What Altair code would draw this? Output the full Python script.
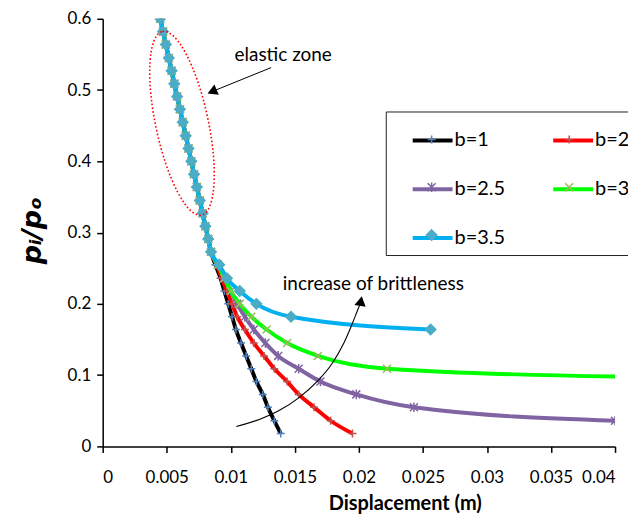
import altair as alt
import pandas as pd

# ---------------- data ----------------
series = ["b=1", "b=2", "b=2.5", "b=3", "b=3.5"]
line_colors = ["#000000", "#FF0000", "#8064A2", "#00FF00", "#00B0F0"]
marker_colors = ["#4F81BD", "#C0504D", "#8064A2", "#9BBB59", "#4BACC6"]
marker_fills = ["transparent", "transparent", "transparent", "transparent", "#4BACC6"]

# shared elastic branch
elastic_p = [0.600, 0.582, 0.564, 0.545, 0.527, 0.509, 0.491, 0.473, 0.455, 0.436,
             0.418, 0.400, 0.382, 0.364, 0.345, 0.327, 0.309, 0.291, 0.273]
elastic_x = [0.00449, 0.00471, 0.00493, 0.00516, 0.00538, 0.00559, 0.00581, 0.00603,
             0.00625, 0.00648, 0.00670, 0.00692, 0.00713, 0.00735, 0.00758, 0.00780,
             0.00802, 0.00824, 0.00846]

# plastic branches
b1_p = [0.255, 0.236, 0.218, 0.200, 0.182, 0.164, 0.145, 0.127, 0.109, 0.091, 0.073, 0.055, 0.036, 0.018]
b1_x = [0.0088, 0.0092, 0.0095, 0.0098, 0.0101, 0.0104, 0.0108, 0.0112, 0.0116, 0.0120, 0.0125, 0.0129, 0.0134, 0.0139]

b2_p = [0.255, 0.236, 0.218, 0.200, 0.182, 0.164, 0.145, 0.127, 0.109, 0.091, 0.073, 0.055, 0.036, 0.018]
b2_x = [0.0089, 0.0093, 0.0097, 0.0101, 0.0105, 0.0111, 0.0118, 0.0126, 0.0134, 0.0144, 0.0153, 0.0165, 0.0178, 0.0195]

b25_p = [0.255, 0.236, 0.218, 0.200, 0.182, 0.164, 0.145, 0.127, 0.109, 0.091, 0.073, 0.055, 0.036]
b25_x = [0.0090, 0.0095, 0.0100, 0.0105, 0.0111, 0.0118, 0.0127, 0.0137, 0.0153, 0.0170, 0.0198, 0.0243, 0.0400]

b3_p = [0.255, 0.236, 0.218, 0.200, 0.182, 0.164, 0.145, 0.127, 0.109, 0.098]
b3_x = [0.0090, 0.0095, 0.0100, 0.0107, 0.0116, 0.0128, 0.0144, 0.0168, 0.0222, 0.0400]
b3_last_marked = False  # line runs off the axis at 0.04 without a marker

b35_p = [0.255, 0.236, 0.218, 0.200, 0.182, 0.164]
b35_x = [0.0091, 0.0097, 0.0107, 0.0120, 0.0147, 0.0256]

x_ticks = [0, 0.005, 0.01, 0.015, 0.02, 0.025, 0.03, 0.035, 0.04]
y_ticks = [0, 0.1, 0.2, 0.3, 0.4, 0.5, 0.6]

# annotations (data coordinates)
ellipse_center = (0.00619, 0.4534)
elastic_label = (0.01409, 0.5497, "elastic zone")
elastic_arrow = (0.01315, 0.5315, 0.00854, 0.4979)
brittle_x = [0.01043, 0.01222, 0.01377, 0.01533, 0.01673, 0.01790, 0.01883, 0.01946, 0.01992, 0.02010]
brittle_p = [0.028, 0.0378, 0.0503, 0.0685, 0.0909, 0.116, 0.145, 0.171, 0.192, 0.200]
brittle_head = (0.02016, 0.2040)
brittle_label = (0.02113, 0.2280, "increase of brittleness")

# ---------------- table ----------------
branches = {
    "b=1": (b1_x, b1_p),
    "b=2": (b2_x, b2_p),
    "b=2.5": (b25_x, b25_p),
    "b=3": (b3_x, b3_p),
    "b=3.5": (b35_x, b35_p),
}
rows = []
for s in series:
    bx, bp = branches[s]
    xs = elastic_x + bx
    ps = elastic_p + bp
    for i, (xv, pv) in enumerate(zip(xs, ps)):
        marked = True
        if s == "b=3" and i == len(xs) - 1 and not b3_last_marked:
            marked = False
        rows.append({"series": s, "x": xv, "p": pv, "marker": marked})
df = pd.DataFrame(rows)

FONT = "Lato"
xscale = alt.Scale(domain=[0, 0.04], nice=False, zero=True)
yscale = alt.Scale(domain=[0, 0.6], nice=False, zero=True)

xenc = alt.X("x:Q", scale=xscale,
             axis=alt.Axis(values=x_ticks, format="~g", title="Displacement (m)",
                           titleFontWeight="bold", titleFontSize=20, titleFont=FONT,
                           titleX=303, titleY=57, titleAnchor="middle",
                           titleBaseline="middle",
                           labelPadding=17, tickSize=6))
yenc = alt.Y("p:Q", scale=yscale,
             axis=alt.Axis(values=y_ticks, format="~g", title="pᵢ/pₒ",
                           titleFont="DejaVu Sans", titleFontSize=27,
                           titleFontStyle="italic", titleFontWeight="bold",
                           titleAngle=270, titleX=-70, titleY=212,
                           titleAlign="center", titleBaseline="middle",
                           labelPadding=6, tickSize=6))

LEG = dict(title=None, orient="none", legendX=284, legendY=93, direction="horizontal",
           columns=2, rowPadding=17, symbolSize=1600,
           labelFontSize=20, labelFont=FONT, labelColor="black", labelOffset=0,
           padding=7, symbolOffset=18)

color = alt.Color("series:N",
                  scale=alt.Scale(domain=series, range=line_colors),
                  legend=alt.Legend(symbolType="stroke", symbolStrokeWidth=4,
                                    columnPadding=28,
                                    strokeColor="#222222", fillColor="white", **LEG))

# marker shapes, drawn small inside the unit box so legend rows keep the same size
plus_path = "M-0.2,0L0.2,0M0,-0.2L0,0.2"
x_path = "M-0.2,-0.2L0.2,0.2M-0.2,0.2L0.2,-0.2"
star_path = "M-0.2,-0.2L0.2,0.2M-0.2,0.2L0.2,-0.2M0,-0.24L0,0.24"
diamond_path = "M0,-0.26L0.26,0L0,0.26L-0.26,0Z"
marker_paths = [plus_path, plus_path, star_path, x_path, diamond_path]

# marker overlay legend: no labels, wider column gap to keep symbols over the lines
mleg = alt.Legend(symbolStrokeWidth=1.5, labelExpr="''", columnPadding=78, **LEG)
shape = alt.Shape("series:N", scale=alt.Scale(range=marker_paths), legend=mleg)
stroke = alt.Stroke("series:N", scale=alt.Scale(range=marker_colors), legend=mleg)
fill = alt.Fill("series:N", scale=alt.Scale(range=marker_fills), legend=mleg)

base = alt.Chart(df)
layers = []
for s in series:
    sub = base.transform_filter(alt.datum.series == s)
    layers.append(sub.mark_line(interpolate="monotone", strokeWidth=4, clip=True)
                  .encode(x=xenc, y=yenc, color=color))
    pts = sub.transform_filter(alt.datum.marker == True)
    layers.append(pts.mark_point(filled=False, size=1600, strokeWidth=1.5,
                                 opacity=1, clip=True)
                  .encode(x="x:Q", y="p:Q", shape=shape, stroke=stroke, fill=fill))

# ---------------- annotations ----------------
ann_pt = pd.DataFrame({"x": [ellipse_center[0]], "p": [ellipse_center[1]]})
ellipse_path = ("M0,-1C0.1546,-1 0.28,-0.5523 0.28,0C0.28,0.5523 0.1546,1 0,1"
                "C-0.1546,1 -0.28,0.5523 -0.28,0C-0.28,-0.5523 -0.1546,-1 0,-1Z")
ellipse = alt.Chart(ann_pt).mark_point(shape=ellipse_path, filled=False, size=35457,
                                       angle=348, color="#FF0000", strokeWidth=1.6,
                                       strokeDash=[1.6, 2.2], opacity=1).encode(x="x:Q", y="p:Q")

txt_df = pd.DataFrame({"x": [elastic_label[0], brittle_label[0]],
                       "p": [elastic_label[1], brittle_label[1]],
                       "t": [elastic_label[2], brittle_label[2]]})
texts = alt.Chart(txt_df).mark_text(font=FONT, fontSize=19, color="black",
                                    align="center", baseline="middle").encode(
    x="x:Q", y="p:Q", text="t:N")

arr_df = pd.DataFrame({"x": [elastic_arrow[0]], "p": [elastic_arrow[1]],
                       "x2": [elastic_arrow[2]], "p2": [elastic_arrow[3]]})
arrow1 = alt.Chart(arr_df).mark_rule(color="black", strokeWidth=1).encode(
    x="x:Q", y="p:Q", x2="x2:Q", y2="p2:Q")
head1 = alt.Chart(pd.DataFrame({"x": [elastic_arrow[2]], "p": [elastic_arrow[3]]})).mark_point(
    shape="triangle-up", filled=True, size=130, angle=247, color="black", opacity=1).encode(
    x="x:Q", y="p:Q")

curve_df = pd.DataFrame({"x": brittle_x, "p": brittle_p})
curve = alt.Chart(curve_df).mark_line(interpolate="monotone", color="black",
                                      strokeWidth=1.1).encode(x="x:Q", y="p:Q")
head2 = alt.Chart(pd.DataFrame({"x": [brittle_head[0]], "p": [brittle_head[1]]})).mark_point(
    shape="triangle-up", filled=True, size=130, angle=10, color="black", opacity=1).encode(
    x="x:Q", y="p:Q")

chart = alt.layer(*layers, ellipse, arrow1, head1, curve, head2, texts).properties(
    width=514, height=429,
    autosize=alt.AutoSizeParams(type="none"),
    padding={"left": 95, "top": 10, "right": 13, "bottom": 70},
).configure_view(stroke=None).configure_axis(
    grid=False, domainColor="black", domainWidth=1.5, tickColor="black", tickWidth=1.5,
    labelFont=FONT, labelFontSize=17, labelColor="black", titleColor="black"
)

chart.save("out.html", embed_options={"renderer": "svg", "actions": False})
